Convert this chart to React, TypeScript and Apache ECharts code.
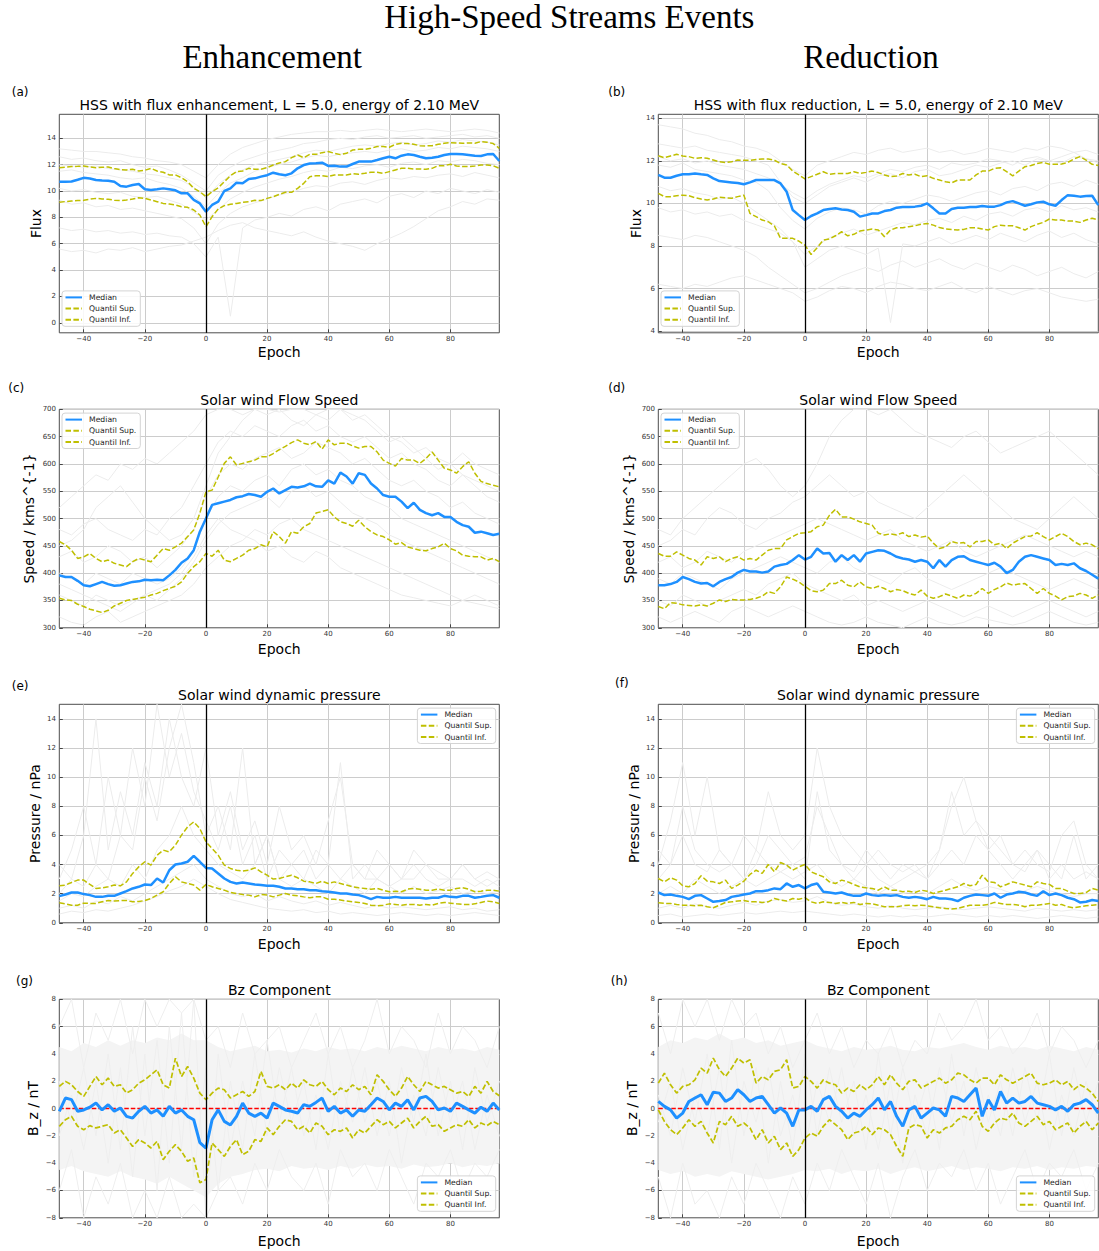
import React, { useEffect, useRef } from "react";
import * as echarts from "echarts";

// ---------- shared axes ----------
const EPOCH2 = [-48,-46,-44,-42,-40,-38,-36,-34,-32,-30,-28,-26,-24,-22,-20,-18,-16,-14,-12,-10,-8,-6,-4,-2,0,2,4,6,8,10,12,14,16,18,20,22,24,26,28,30,32,34,36,38,40,42,44,46,48,50,52,54,56,58,60,62,64,66,68,70,72,74,76,78,80,82,84,86,88,90,92,94,96];
const EPOCH4 = [-48,-44,-40,-36,-32,-28,-24,-20,-16,-12,-8,-4,0,4,8,12,16,20,24,28,32,36,40,44,48,52,56,60,64,68,72,76,80,84,88,92,96];
const X_TICKS = [-40,-20,0,20,40,60,80];
const FLUX_TICKS_A = [0,2,4,6,8,10,12,14];
const FLUX_TICKS_B = [4,6,8,10,12,14];
const SPEED_TICKS = [300,350,400,450,500,550,600,650,700];
const PRESSURE_TICKS = [0,2,4,6,8,10,12,14];
const BZ_TICKS = [-8,-6,-4,-2,0,2,4,6,8];
const LEGEND_NAMES = ["Median","Quantil Sup.","Quantil Inf."];

// ---------- (a) flux enhancement ----------
const A_MEDIAN = [10.71,10.7,10.72,10.85,11.0,10.95,10.84,10.8,10.78,10.7,10.38,10.33,10.46,10.53,10.13,10.08,10.13,10.2,10.13,10.05,9.82,9.82,9.32,9.06,8.43,8.94,9.19,10.0,10.2,10.63,10.58,10.91,10.96,11.09,11.2,11.39,11.27,11.2,11.34,11.72,11.97,12.08,12.1,12.15,11.9,11.92,11.85,11.85,12.05,12.23,12.23,12.23,12.35,12.48,12.6,12.48,12.68,12.78,12.73,12.6,12.48,12.53,12.6,12.73,12.81,12.81,12.78,12.73,12.68,12.66,12.78,12.81,12.28];
const A_SUP = [11.77,11.8,11.85,11.87,11.9,11.82,11.77,11.8,11.82,11.7,11.62,11.6,11.65,11.52,11.57,11.72,11.52,11.42,11.22,11.22,11.0,10.7,10.2,9.95,9.57,9.95,10.25,10.7,11.16,11.47,11.52,11.72,11.65,11.65,11.77,11.97,12.13,12.23,12.53,12.73,12.53,12.78,12.78,12.91,12.99,12.86,12.76,12.86,13.11,13.16,13.16,13.24,13.37,13.37,13.32,13.54,13.62,13.6,13.54,13.44,13.42,13.44,13.54,13.62,13.67,13.65,13.62,13.65,13.62,13.75,13.7,13.6,13.24];
const A_INF = [9.14,9.2,9.24,9.27,9.29,9.38,9.44,9.4,9.37,9.3,9.27,9.32,9.39,9.49,9.44,9.32,9.19,9.06,9.01,8.94,8.81,8.76,8.56,8.18,7.29,8.05,8.63,8.89,8.99,9.06,9.14,9.19,9.29,9.27,9.44,9.57,9.75,9.9,9.9,10.2,10.58,11.09,11.16,11.16,11.09,11.22,11.22,11.22,11.32,11.27,11.34,11.42,11.42,11.34,11.47,11.6,11.72,11.72,11.67,11.67,11.65,11.72,11.92,11.92,12.03,11.9,11.85,11.85,11.9,11.97,11.97,11.92,11.72];
const A_G1 = [13.2,13.1,13.0,13.0,12.9,12.8,12.6,12.5,12.3,12.2,12.0,11.5,11.0,12.0,12.8,13.3,13.6,13.9,14.1,14.3,14.4,14.5,14.5,14.6,14.5,14.6,14.7,14.6,14.5,14.6,14.7,14.6,14.5,14.6,14.7,14.6,14.4];
const A_G2 = [12.6,12.4,12.5,12.3,12.2,12.3,12.0,11.8,11.9,11.6,11.2,10.6,10.0,11.2,11.8,12.3,12.6,12.9,13.1,13.3,13.6,13.7,13.9,14.0,13.9,14.1,14.2,14.0,14.1,14.2,14.0,14.1,14.2,14.3,14.1,14.2,14.0];
const A_G3 = [11.5,11.6,11.4,11.3,11.2,11.0,10.9,11.0,10.7,10.5,10.2,9.6,8.8,9.8,10.6,11.0,11.5,11.8,12.0,12.2,12.5,12.7,12.6,12.8,12.9,13.0,12.9,13.1,13.2,13.0,13.1,13.3,13.2,13.4,13.3,13.2,13.0];
const A_G4 = [10.2,10.0,10.1,9.9,9.8,9.9,9.6,9.5,9.6,9.3,9.0,8.4,7.8,8.6,9.4,9.9,10.3,10.6,10.9,11.1,11.4,11.6,11.5,11.8,11.7,11.9,12.0,11.8,12.1,12.2,12.0,12.3,12.2,12.4,12.3,12.1,12.0];
const A_G5 = [9.3,9.0,9.1,8.8,8.9,8.6,8.7,8.5,8.3,8.1,7.9,7.2,6.0,7.5,8.3,8.8,9.1,9.4,9.7,9.9,10.2,10.4,10.3,10.6,10.7,10.5,10.8,11.0,10.9,11.1,11.0,11.2,11.3,11.1,11.4,11.2,11.0];
const A_G6 = [7.2,7.0,7.1,6.9,7.0,6.8,6.9,6.7,6.8,6.6,6.5,6.0,5.0,6.5,0.5,7.2,7.8,8.0,8.3,8.1,8.6,8.8,8.5,9.0,9.2,9.4,9.1,9.6,9.8,9.5,10.0,9.8,10.2,10.0,9.8,10.1,9.9];
const A_G7 = [5.6,5.4,5.5,5.3,5.6,5.5,5.7,5.4,5.6,5.8,5.9,6.2,6.5,7.0,7.4,7.6,7.2,7.0,6.8,6.6,6.9,6.5,6.2,6.0,5.8,5.5,6.0,6.4,6.8,7.3,7.9,8.5,8.8,9.2,9.0,9.4,9.3];
const A_G8 = [12.0,11.9,11.8,11.9,11.7,11.6,11.5,11.3,11.2,11.0,10.8,10.3,9.5,10.5,11.2,11.6,12.0,12.2,12.4,12.6,12.9,13.1,13.0,13.2,13.4,13.5,13.4,13.6,13.7,13.5,13.6,13.8,13.7,13.9,13.8,13.7,13.5];

// ---------- (b) flux reduction ----------
const B_MEDIAN = [11.34,11.21,11.21,11.3,11.37,11.37,11.41,11.37,11.34,11.18,11.05,11.02,10.99,10.96,10.9,10.99,11.1,11.1,11.1,11.1,10.94,10.55,9.69,9.45,9.22,9.41,9.53,9.69,9.74,9.77,9.72,9.69,9.61,9.38,9.45,9.53,9.53,9.64,9.69,9.8,9.83,9.83,9.85,9.89,10.0,9.77,9.53,9.53,9.74,9.8,9.8,9.83,9.83,9.88,9.85,9.85,9.92,10.05,10.11,10.0,9.89,9.96,10.05,10.08,9.96,9.89,10.16,10.39,10.36,10.32,10.35,10.36,9.92];
const B_SUP = [12.24,12.15,12.23,12.31,12.23,12.2,12.12,12.15,12.12,12.04,11.96,11.92,11.96,12.04,12.03,12.03,12.06,12.09,12.09,12.03,11.88,11.81,11.52,11.34,11.15,11.26,11.37,11.49,11.37,11.41,11.41,11.41,11.49,11.41,11.46,11.52,11.45,11.34,11.26,11.29,11.41,11.34,11.37,11.26,11.3,11.18,11.1,11.02,10.97,11.1,11.1,11.1,11.34,11.52,11.52,11.65,11.68,11.49,11.3,11.52,11.73,11.78,11.88,11.93,11.84,11.84,11.85,11.93,12.09,12.2,12.04,11.84,11.78];
const B_INF = [10.47,10.32,10.32,10.36,10.39,10.36,10.27,10.21,10.16,10.21,10.29,10.27,10.24,10.32,10.39,9.53,9.38,9.22,9.14,8.94,8.36,8.36,8.36,8.23,8.04,7.6,7.92,8.28,8.33,8.48,8.67,8.48,8.55,8.7,8.75,8.8,8.75,8.44,8.75,8.86,8.86,8.91,8.95,9.02,9.06,8.98,8.87,8.8,8.78,8.75,8.78,8.86,8.86,8.8,8.75,8.91,8.98,8.95,8.95,8.86,8.75,8.91,9.02,9.11,9.27,9.22,9.22,9.17,9.17,9.11,9.22,9.3,9.22];
const B_G1 = [13.7,13.6,13.5,13.3,13.2,13.0,12.9,12.7,12.6,12.4,12.0,11.6,11.3,11.8,12.0,12.2,12.4,12.3,12.5,12.6,12.4,12.5,12.6,12.4,12.5,12.3,12.4,12.6,12.5,12.4,12.6,12.5,12.7,12.6,12.4,12.5,12.3];
const B_G2 = [12.8,12.7,12.6,12.7,12.5,12.4,12.3,12.2,12.0,11.8,11.0,10.3,10.0,10.4,10.8,11.0,11.2,11.0,11.3,11.4,11.2,11.5,11.6,11.3,11.4,11.6,11.8,11.7,11.9,12.0,11.8,12.1,12.0,11.9,12.2,12.1,12.0];
const B_G3 = [11.8,11.7,11.9,11.6,11.5,11.4,11.3,11.1,11.0,10.6,9.8,9.2,8.8,9.3,9.6,9.8,9.7,9.5,9.9,10.1,10.0,10.2,10.4,10.3,10.1,10.3,10.5,10.6,10.4,10.7,10.8,10.6,10.9,11.0,10.8,11.1,10.9];
const B_G4 = [10.8,10.6,10.7,10.5,10.4,10.2,10.3,10.0,9.6,9.2,8.8,8.2,7.6,8.0,8.4,8.6,8.8,8.5,8.7,8.9,9.1,9.0,9.2,9.3,9.1,9.4,9.2,9.5,9.6,9.4,9.7,9.8,9.6,9.9,9.7,9.8,9.6];
const B_G5 = [9.8,9.6,9.7,9.5,9.6,9.4,9.5,9.2,9.0,8.8,8.6,8.2,7.0,7.4,7.8,8.0,7.8,7.6,7.9,4.4,8.1,8.0,8.2,8.4,8.1,8.3,8.5,8.3,8.6,8.4,8.2,8.5,8.7,8.4,8.6,8.3,8.1];
const B_G6 = [8.5,8.4,8.3,8.5,8.4,8.2,8.0,7.8,7.5,7.0,6.6,6.2,5.8,6.0,6.3,6.6,6.8,7.0,6.8,7.1,7.3,7.0,7.2,7.4,7.1,6.9,7.2,7.0,6.8,7.1,6.9,6.6,6.8,7.0,6.7,6.5,6.8];
const B_G7 = [6.2,6.1,6.0,6.2,6.1,6.3,6.5,6.6,6.4,6.2,6.0,5.8,5.4,5.6,5.9,6.1,6.0,5.8,6.1,6.3,6.2,6.0,5.9,6.1,6.3,6.0,5.8,6.1,5.9,5.7,5.9,6.0,5.8,5.6,5.5,5.4,5.5];
const B_G8 = [12.2,12.0,12.1,11.9,12.0,11.8,11.7,11.6,11.4,11.2,10.9,10.5,10.2,10.6,10.9,11.1,11.3,11.2,11.4,11.6,11.5,11.7,11.8,11.6,11.9,11.8,11.9,12.1,12.0,11.8,12.1,12.2,12.0,12.2,12.4,12.1,11.9];

// ---------- (c) speed enhancement ----------
const C_MEDIAN = [396,393,393,386,378,376,380,384,380,377,378,381,384,385,388,387,388,387,396,406,419,427,442,476,500,525,528,531,534,539,541,545,543,540,549,555,546,552,558,557,559,564,559,558,570,564,584,577,564,583,580,564,555,543,540,540,531,519,529,516,510,506,510,503,503,494,488,485,474,476,473,470,472];
const C_SUP = [458,452,442,427,430,436,427,421,424,418,415,412,421,427,424,421,433,445,442,448,455,467,479,510,549,552,576,601,613,598,601,604,607,613,613,619,626,632,639,644,638,635,641,627,644,635,638,638,633,629,632,632,622,607,601,596,610,607,607,601,610,622,607,592,589,583,595,604,583,568,564,561,558];
const C_INF = [354,351,350,343,339,334,331,328,332,340,345,350,352,354,356,360,363,368,372,376,384,400,412,421,436,431,442,424,421,427,433,442,445,452,448,476,467,455,476,473,485,491,510,513,516,503,494,491,486,497,485,476,470,467,461,453,456,448,445,442,441,445,448,455,445,441,433,431,430,430,424,427,421];
const C_G1 = [520,540,560,580,570,600,590,610,600,620,640,660,690,700,700,690,700,700,695,700,700,690,700,700,680,690,670,650,640,620,630,610,600,620,600,590,580];
const C_G2 = [480,470,490,500,480,470,460,480,470,500,520,560,600,640,660,650,670,660,650,670,680,660,670,650,640,650,630,610,620,600,590,570,560,580,560,540,530];
const C_G3 = [430,440,420,430,450,440,420,430,410,430,450,480,540,580,600,590,610,620,630,610,620,640,630,620,600,610,590,570,560,570,550,540,520,530,510,500,490];
const C_G4 = [400,390,380,400,390,380,400,390,380,390,410,440,500,540,560,550,570,580,560,590,600,580,590,570,560,540,530,520,500,490,480,470,460,450,440,430,420];
const C_G5 = [360,350,340,360,350,340,350,360,350,370,390,420,460,490,510,520,530,540,520,550,560,540,550,530,510,500,490,470,460,450,440,430,420,410,400,390,380];
const C_G6 = [320,310,305,320,330,310,320,330,340,350,360,380,410,430,450,460,480,470,490,500,480,470,460,450,440,430,420,410,400,390,380,370,360,350,360,350,340];
const C_G7 = [450,460,480,520,540,560,530,500,480,460,470,500,560,620,650,680,700,690,700,680,670,690,680,700,690,680,660,640,650,630,610,590,600,580,570,560,550];
const C_G8 = [380,370,360,350,340,330,345,360,370,380,400,430,470,500,480,470,460,440,450,430,420,440,430,410,400,390,380,370,360,355,350,345,340,350,345,340,335];

// ---------- (d) speed reduction ----------
const D_MEDIAN = [378,378,380,384,393,389,384,381,382,376,384,389,393,401,406,403,403,401,403,412,415,417,424,433,425,430,445,436,437,421,433,424,433,421,436,439,442,441,436,430,427,425,421,424,421,409,424,412,424,430,431,424,421,418,415,419,412,400,406,421,430,433,430,427,424,415,417,415,418,409,404,397,390];
const D_SUP = [436,431,431,439,433,427,424,415,430,427,430,421,427,430,424,427,424,433,442,445,445,461,467,473,474,476,485,488,506,517,503,503,499,494,491,488,473,470,472,470,474,467,470,466,468,455,445,448,458,455,456,448,458,458,461,452,455,445,455,461,467,468,474,467,461,467,473,467,458,452,455,452,445];
const D_INF = [339,335,346,345,342,341,340,342,340,345,351,348,352,351,351,352,354,358,366,363,375,393,389,384,376,368,366,369,381,381,387,378,375,384,375,372,376,372,366,370,368,363,360,369,358,354,357,362,358,354,360,358,363,372,363,370,375,382,378,380,381,372,363,372,363,358,351,357,358,363,360,354,360];
const D_G1 = [480,470,500,520,540,560,580,600,610,590,560,540,560,600,650,680,700,700,690,700,680,660,650,640,630,650,660,640,620,630,640,650,660,640,620,600,580];
const D_G2 = [450,460,480,470,500,520,510,490,480,500,510,530,540,560,580,560,540,550,530,520,510,500,520,540,560,580,560,540,520,500,490,480,500,520,540,520,500];
const D_G3 = [420,430,410,420,440,430,420,440,450,460,470,480,490,500,490,480,470,460,470,480,460,450,440,450,460,440,430,440,450,460,470,460,450,440,430,440,430];
const D_G4 = [390,380,400,390,380,370,390,400,410,420,430,420,410,400,420,430,410,400,390,380,400,410,390,380,370,380,390,400,410,400,390,380,370,380,390,380,370];
const D_G5 = [350,340,360,350,340,350,360,370,360,380,390,400,380,370,360,350,360,340,350,340,330,340,350,340,330,320,330,340,330,320,330,340,350,340,330,320,330];
const D_G6 = [320,310,320,330,320,310,330,340,330,320,330,340,330,320,310,305,310,320,310,305,300,310,320,310,305,310,320,315,310,305,310,320,330,320,310,305,310];

// ---------- (e) pressure enhancement ----------
const E_MEDIAN = [1.83,1.94,2.08,2.08,1.97,1.9,1.78,1.78,1.85,1.85,2.01,2.17,2.36,2.47,2.63,2.59,3.04,2.77,3.61,4.0,4.07,4.19,4.6,4.19,3.77,3.73,3.39,3.04,2.81,2.7,2.77,2.7,2.63,2.59,2.54,2.54,2.47,2.36,2.36,2.31,2.31,2.24,2.24,2.17,2.13,2.08,2.01,2.01,1.94,1.9,1.78,1.62,1.78,1.72,1.72,1.78,1.72,1.72,1.72,1.72,1.67,1.72,1.72,1.85,1.78,1.76,1.85,1.85,1.72,1.78,1.85,1.9,1.72];
const E_SUP = [2.54,2.59,2.77,2.93,2.93,2.63,2.36,2.4,2.47,2.59,2.54,2.81,3.39,3.84,4.19,3.96,4.64,4.99,4.87,5.33,6.02,6.59,6.93,6.47,5.56,5.1,4.64,3.96,3.73,3.61,3.55,3.61,3.77,3.5,3.27,3.0,3.04,3.16,3.27,3.09,2.86,2.81,2.7,2.86,2.7,2.81,2.7,2.59,2.47,2.4,2.36,2.31,2.36,2.24,2.13,2.17,2.13,2.31,2.36,2.31,2.24,2.24,2.31,2.24,2.24,2.36,2.4,2.31,2.13,2.17,2.24,2.24,2.17];
const E_INF = [1.37,1.3,1.21,1.21,1.35,1.33,1.33,1.44,1.53,1.49,1.53,1.53,1.44,1.46,1.53,1.67,1.9,2.13,2.7,3.16,2.81,2.7,2.59,2.24,2.63,2.47,2.36,2.24,2.08,2.01,1.94,1.9,1.78,1.94,1.9,1.78,1.9,2.01,1.9,1.85,1.78,1.72,1.78,1.78,1.62,1.62,1.56,1.49,1.44,1.4,1.33,1.21,1.17,1.21,1.3,1.26,1.21,1.26,1.26,1.21,1.26,1.21,1.33,1.4,1.35,1.3,1.26,1.26,1.3,1.4,1.49,1.44,1.33];
const E_G1 = [3,5,8,4,10,6,12,8,15,10,13,9,7,5,8,4,6,3,5,4,3,5,4,3,4,3,3,4,3,3,4,3,3,3,2.5,3,2.5];
const E_G2 = [2,3,2.5,4,3,6,5,10,7,12,15,11,6,8,5,12,4,6,3,4,5,3,4,11,3,4,3,2.5,3,4,3,2.5,3,4,3,2.5,3];
const E_G3 = [1.5,2,1.8,2.5,3,2.5,4,3,5,6,8,6,5,4,3.5,3,4,6,3,2.5,3,2.5,2,3,2.5,2,3,2.5,2,2.5,2,2.2,2.5,2,2.2,2,2.2];
const E_G4 = [1,1.2,1,1.5,1.3,1.8,1.5,2,2.5,3,3.5,4,3,2.5,2,1.8,2,1.5,1.8,1.5,1.3,1.5,1.2,1.4,1.2,1,1.2,1,1.1,1,0.9,1,1.1,0.9,1,0.8,0.9];
const E_G5 = [0.6,0.8,0.7,0.9,0.8,1,1.2,1.5,1.8,2.2,2.5,3,2.5,2,1.6,1.4,1.2,1,0.9,0.8,0.9,0.7,0.8,0.6,0.7,0.6,0.5,0.6,0.7,0.6,0.5,0.6,0.5,0.6,0.7,0.6,0.5];
const E_G6 = [4,3,6,14,5,9,6,11,8,14,10,8,12,6,9,5,7,4,8,5,6,4,7,10,4,3,5,4,3,5,4,3.5,3,4,3,3.5,3];

// ---------- (f) pressure reduction ----------
const F_MEDIAN = [2.08,1.9,1.94,1.85,1.78,1.62,1.85,1.9,1.67,1.44,1.49,1.56,1.78,1.85,1.94,2.01,2.17,2.17,2.24,2.36,2.31,2.7,2.47,2.59,2.36,2.59,2.7,2.13,2.08,2.01,2.08,1.94,1.85,1.85,2.01,1.9,1.85,1.9,1.85,1.9,1.78,1.72,1.78,1.72,1.62,1.78,1.67,1.67,1.62,1.49,1.72,1.85,1.94,1.9,1.85,2.01,1.72,1.94,2.01,2.13,2.08,1.94,1.85,2.17,1.9,2.01,1.9,1.72,1.62,1.4,1.44,1.56,1.49];
const F_SUP = [3.04,2.81,3.09,2.93,2.54,2.47,2.7,3.23,2.86,2.81,2.7,2.93,2.36,2.59,2.86,3.32,3.61,3.39,4.0,3.5,4.14,3.96,3.61,3.84,4.0,3.5,3.32,3.16,2.81,2.7,2.93,2.81,2.63,2.47,2.4,2.36,2.24,2.47,2.24,2.24,2.13,2.17,2.08,2.24,2.17,2.01,2.13,2.24,2.36,2.47,2.7,2.54,2.63,3.27,2.81,2.77,2.47,2.63,2.81,2.7,2.59,2.47,2.81,2.7,2.63,2.36,2.36,2.17,2.01,2.01,2.08,2.36,2.24];
const F_INF = [1.37,1.33,1.33,1.26,1.21,1.21,1.17,1.21,1.1,1.03,1.21,1.4,1.44,1.49,1.53,1.44,1.44,1.4,1.44,1.67,1.56,1.49,1.67,1.62,1.72,1.44,1.33,1.44,1.4,1.33,1.4,1.33,1.4,1.26,1.33,1.3,1.21,1.1,1.1,1.1,1.17,1.21,1.17,1.21,1.17,1.1,1.03,0.98,0.94,0.98,1.1,1.21,1.21,1.21,1.26,1.4,1.33,1.26,1.26,1.21,1.1,1.21,1.21,1.26,1.33,1.21,1.26,1.1,1.03,1.1,1.17,1.21,1.26];
const F_G1 = [4,7,11,6,10,5,4,6,5,9,6,5,6,12,8,6,5,4,5,4,3.5,4,3,5,8,10,7,6,5,4,3.5,5,4,3,6,3,4];
const F_G2 = [3,4,8,5,4,3.5,4,3,5,4,3.5,4,3,9,5,4,3,4,3,2.5,3,3.5,3,4,5,4,6,5,4,3,4,5,3,4,3,3.5,3];
const F_G3 = [2,2.5,2,3,2.5,2,2.5,3,2.5,3,3.5,3,3.5,4,3,2.5,3,2.5,2,2.5,2,2.2,2,2.5,3,2.5,2.2,2.5,2.3,2,2.2,2.5,2.2,2,1.8,2,2];
const F_G4 = [1,1.2,1,1.3,1.1,1,1.2,1.4,1.2,1.5,1.6,1.4,1.5,1.8,1.4,1.2,1.3,1.1,1,1.2,1,0.9,1,1.1,1,0.9,1,1.1,1,0.9,0.8,1,0.9,0.8,0.9,0.8,0.9];
const F_G5 = [0.5,0.6,0.4,0.5,0.6,0.5,0.6,0.7,0.6,0.7,0.8,0.7,0.8,0.7,0.6,0.5,0.6,0.5,0.4,0.5,0.4,0.5,0.4,0.5,0.6,0.5,0.4,0.5,0.4,0.5,0.4,0.3,0.4,0.5,0.4,0.3,0.4];
const F_G6 = [5,4,6,4,3.5,5,4,3,4,6,5,4,4.5,8,6,4,3.5,5,4,3,4,3.5,4,5,9,6,7,5,6,4,5,4,3.5,6,7,4,3];

// ---------- (g) Bz enhancement ----------
const G_MEDIAN = [-0.2,0.77,0.65,-0.2,-0.1,0.1,0.4,-0.1,0.28,-0.2,0.04,-0.57,-0.7,-0.2,0.16,-0.33,-0.1,-0.57,0.16,-0.33,-0.1,-0.57,-0.82,-2.5,-2.9,-0.82,-0.1,-0.94,-1.2,-0.57,0.4,-0.33,-0.57,-0.33,-0.7,0.4,0.16,-0.1,-0.2,-0.33,0.28,0.16,0.45,0.77,-0.2,0.16,-0.33,-0.1,-0.57,-0.1,-0.2,0.28,0.77,0.52,-0.1,0.4,0.16,0.65,-0.1,0.77,0.89,0.52,-0.1,0.04,-0.2,0.4,0.16,-0.1,-0.33,0.1,-0.2,0.4,-0.1];
const G_SUP = [1.62,1.99,1.74,1.25,0.89,1.62,2.35,1.74,2.23,1.62,1.74,1.13,1.38,1.86,2.1,2.47,2.84,1.74,1.5,3.69,2.35,3.08,2.23,1.13,0.65,1.13,1.5,1.38,0.77,1.01,1.25,0.89,1.25,2.72,1.62,1.5,1.74,1.38,1.86,1.5,2.1,1.74,1.62,1.99,1.38,1.01,1.5,1.25,1.74,1.38,1.62,1.01,2.47,1.99,1.38,0.89,1.5,2.35,1.74,1.25,1.99,1.74,1.5,1.62,1.38,1.13,1.25,0.89,1.62,1.13,1.99,1.25,0.94];
const G_INF = [-1.3,-0.82,-0.57,-1.3,-1.55,-1.25,-1.42,-1.3,-1.18,-1.79,-1.55,-2.16,-2.77,-2.28,-2.52,-2.89,-2.4,-3.74,-3.13,-2.64,-3.13,-3.86,-3.62,-5.44,-5.2,-2.52,-3.01,-3.5,-2.77,-2.28,-3.37,-3.13,-2.28,-2.4,-1.42,-1.91,-1.3,-0.82,-0.94,-1.55,-1.3,-1.79,-1.06,-1.3,-1.91,-1.55,-1.67,-1.42,-2.16,-1.55,-1.79,-1.3,-0.82,-1.18,-0.94,-1.42,-1.06,-0.7,-1.42,-0.94,-0.57,-1.3,-1.18,-1.67,-1.42,-1.18,-1.3,-0.82,-1.42,-1.06,-1.25,-0.94,-1.18];
const G_BAND_UP = [4.5,4.2,4.8,4.5,5,4.6,5,4.8,5.2,5,5.5,5,5,4.5,4.2,4.4,4.6,4.2,4.3,4.1,4.4,4.2,4.5,4.3,4.4,4.2,4.5,4.3,4.6,4.4,4.2,4.5,4.3,4.4,4.2,4.5,4.3];
const G_BAND_LO = [-4.5,-4.2,-4.6,-4.8,-5,-4.6,-5,-5.2,-5.5,-5,-5.5,-6,-6.5,-5.5,-5,-4.8,-4.5,-4.4,-4.6,-4.2,-4.4,-4.3,-4.5,-4.2,-4.4,-4.1,-4.3,-4.2,-4.4,-4.1,-4.3,-4.2,-4,-4.3,-4.1,-4.2,-4];
const G_G1 = [6,8,3,7,5,8,4,8,6,8,7,8,5,6,3,7,4,5,6,3,5,7,4,6,3,5,8,4,6,5,3,7,4,6,5,3,6];
const G_G2 = [-6,-3,-8,-5,-7,-4,-8,-6,-8,-5,-8,-7,-8,-6,-5,-7,-4,-6,-3,-5,-6,-4,-7,-3,-5,-4,-6,-3,-5,-7,-4,-5,-3,-6,-4,-5,-3];
const G_G3 = [2,-1,3,-2,4,-3,6,-2,5,-4,7,-5,3,-6,2,-3,4,-2,3,-1,2,-3,4,-2,3,-1,2,-2,3,-1,4,-2,2,-3,3,-1,2];
const G_G4 = [-2,1,-3,2,-4,3,-5,4,-6,6,-3,8,-8,4,-3,2,-2,5,-1,3,-2,1,-3,2,-1,3,-2,2,-4,1,-2,3,-1,2,-3,1,-2];

// ---------- (h) Bz reduction ----------
const H_MEDIAN = [0.52,0.16,-0.1,-0.7,-0.33,0.52,0.77,1.01,0.28,1.2,1.13,0.52,0.77,1.38,1.01,0.52,0.77,0.89,0.28,-0.33,0.04,-0.33,-1.3,-0.1,-0.1,0.16,-0.2,0.65,0.89,0.16,-0.2,-0.7,-0.33,-0.57,-0.1,0.28,0.77,-0.1,0.52,-0.57,-1.3,-0.1,0.16,-0.7,-0.33,0.04,-0.1,-0.57,0.89,0.77,0.52,1.01,1.5,-0.57,0.65,-0.1,1.25,0.4,0.77,0.4,0.52,0.89,0.4,0.28,0.16,-0.1,0.16,-0.2,0.28,0.4,0.65,0.28,-0.33];
const H_SUP = [1.86,2.59,1.74,1.13,1.62,1.74,2.1,2.96,2.59,3.69,2.84,2.35,2.96,3.69,3.33,3.57,1.86,2.35,2.1,2.72,2.84,3.57,1.5,1.62,2.35,1.99,1.5,2.1,1.86,1.74,1.13,1.5,1.25,1.74,1.38,1.74,2.35,1.74,2.47,1.86,1.38,1.99,2.1,1.5,1.74,1.99,2.23,1.86,2.1,2.59,2.47,2.1,1.86,2.23,2.23,1.74,2.47,2.1,1.86,2.1,2.35,2.59,1.86,1.74,1.86,2.1,1.74,1.99,1.38,1.74,1.5,1.13,0.52];
const H_INF = [-0.1,-0.94,-1.55,-1.91,-1.42,-0.82,-1.3,-0.94,-1.79,-2.52,-0.94,-1.18,-0.57,-1.3,-1.06,-1.42,-2.28,-1.55,-2.52,-2.03,-3.01,-2.52,-3.5,-3.01,-2.16,-1.79,-2.03,-1.3,-0.82,-1.18,-1.55,-2.28,-1.79,-1.67,-1.3,-1.91,-1.42,-1.55,-1.91,-2.77,-3.5,-1.42,-1.18,-1.3,-2.16,-1.55,-1.79,-1.42,-1.3,-0.82,-0.57,-0.82,-0.2,-1.3,-1.67,-1.06,-0.7,-0.82,-0.33,-1.06,-1.3,-0.94,-0.57,-1.18,-0.94,-1.55,-1.3,-1.06,-1.79,-1.3,-0.94,-1.55,-1.06];
const H_BAND_UP = [4.5,5,4.8,5.2,5,5.5,5,5.2,4.8,5,4.6,4.8,5,4.6,4.4,4.2,4.5,4.3,4.4,4.6,4.3,4.2,4.5,4.4,4.6,4.8,4.5,4.3,4.6,4.4,4.5,4.3,4.6,4.4,4.2,4.5,4.3];
const H_BAND_LO = [-4.5,-4.8,-4.6,-5,-4.8,-5,-4.6,-4.8,-5,-5.2,-5,-4.8,-4.5,-4.6,-4.4,-4.8,-4.5,-4.6,-4.4,-4.8,-4.5,-4.3,-4.6,-4.4,-4.2,-4.5,-4.3,-4.4,-4.6,-4.3,-4.4,-4.2,-4.5,-4.3,-4.4,-4.2,-4.3];
const H_G1 = [7,4,8,6,8,5,8,6,7,4,6,3,5,7,4,6,3,5,4,6,3,5,4,7,5,6,8,5,6,4,5,7,4,6,5,3,5];
const H_G2 = [-5,-8,-4,-7,-6,-8,-5,-7,-4,-6,-8,-5,-7,-4,-6,-3,-5,-7,-4,-8,-5,-3,-6,-4,-5,-3,-6,-4,-7,-5,-3,-6,-4,-5,-3,-6,-4];
const H_G3 = [1,-2,3,-1,4,-3,5,-2,3,-4,2,-3,4,-2,3,-1,2,-3,4,-2,3,-1,2,-3,4,-2,3,-1,2,-2,3,-1,4,-2,3,-1,2];
const H_G4 = [-1,2,-3,1,-2,3,-4,2,-1,3,-2,1,-3,2,-1,3,-2,1,-3,2,-4,1,-2,3,-1,2,-3,1,-2,3,-1,2,-3,1,-2,2,-1];

// ---------- panel definitions ----------
type Panel = {
  label: string; title: string; ylabel: string;
  col: number; row: number;
  ymin: number; ymax: number; yticks: number[];
  median: number[]; sup: number[]; inf: number[];
  grey: number[][]; bandUp: number[] | null; bandLo: number[] | null;
  legendPos: "bl" | "tl" | "tr" | "br"; zero: boolean;
  labelX: number; labelY: number; ylabelX: number;
};

const PANELS: Panel[] = [
  { label: "(a)", title: "HSS with flux enhancement, L = 5.0, energy of 2.10 MeV", ylabel: "Flux", col: 0, row: 0, ymin: -0.76, ymax: 15.82, yticks: FLUX_TICKS_A, median: A_MEDIAN, sup: A_SUP, inf: A_INF, grey: [A_G1, A_G2, A_G3, A_G4, A_G5, A_G6, A_G7, A_G8], bandUp: null, bandLo: null, legendPos: "bl", zero: false, labelX: 11.7, labelY: 91.7, ylabelX: 36 },
  { label: "(b)", title: "HSS with flux reduction, L = 5.0, energy of 2.10 MeV", ylabel: "Flux", col: 1, row: 0, ymin: 3.92, ymax: 14.19, yticks: FLUX_TICKS_B, median: B_MEDIAN, sup: B_SUP, inf: B_INF, grey: [B_G1, B_G2, B_G3, B_G4, B_G5, B_G6, B_G7, B_G8], bandUp: null, bandLo: null, legendPos: "bl", zero: false, labelX: 608.3, labelY: 92, ylabelX: 635.5 },
  { label: "(c)", title: "Solar wind Flow Speed", ylabel: "Speed / kms^{-1}", col: 0, row: 1, ymin: 300, ymax: 700, yticks: SPEED_TICKS, median: C_MEDIAN, sup: C_SUP, inf: C_INF, grey: [C_G1, C_G2, C_G3, C_G4, C_G5, C_G6, C_G7, C_G8], bandUp: null, bandLo: null, legendPos: "tl", zero: false, labelX: 8.3, labelY: 387.5, ylabelX: 29.2 },
  { label: "(d)", title: "Solar wind Flow Speed", ylabel: "Speed / kms^{-1}", col: 1, row: 1, ymin: 300, ymax: 700, yticks: SPEED_TICKS, median: D_MEDIAN, sup: D_SUP, inf: D_INF, grey: [D_G1, D_G2, D_G3, D_G4, D_G5, D_G6], bandUp: null, bandLo: null, legendPos: "tl", zero: false, labelX: 608.3, labelY: 387.5, ylabelX: 628.5 },
  { label: "(e)", title: "Solar wind dynamic pressure", ylabel: "Pressure / nPa", col: 0, row: 2, ymin: 0, ymax: 15, yticks: PRESSURE_TICKS, median: E_MEDIAN, sup: E_SUP, inf: E_INF, grey: [E_G1, E_G2, E_G3, E_G4, E_G5, E_G6], bandUp: null, bandLo: null, legendPos: "tr", zero: false, labelX: 11.7, labelY: 686, ylabelX: 35 },
  { label: "(f)", title: "Solar wind dynamic pressure", ylabel: "Pressure / nPa", col: 1, row: 2, ymin: 0, ymax: 15, yticks: PRESSURE_TICKS, median: F_MEDIAN, sup: F_SUP, inf: F_INF, grey: [F_G1, F_G2, F_G3, F_G4, F_G5, F_G6], bandUp: null, bandLo: null, legendPos: "tr", zero: false, labelX: 615, labelY: 682.5, ylabelX: 634 },
  { label: "(g)", title: "Bz Component", ylabel: "B_z / nT", col: 0, row: 3, ymin: -8, ymax: 8, yticks: BZ_TICKS, median: G_MEDIAN, sup: G_SUP, inf: G_INF, grey: [G_G1, G_G2, G_G3, G_G4], bandUp: G_BAND_UP, bandLo: G_BAND_LO, legendPos: "br", zero: true, labelX: 16, labelY: 981, ylabelX: 32.5 },
  { label: "(h)", title: "Bz Component", ylabel: "B_z / nT", col: 1, row: 3, ymin: -8, ymax: 8, yticks: BZ_TICKS, median: H_MEDIAN, sup: H_SUP, inf: H_INF, grey: [H_G1, H_G2, H_G3, H_G4], bandUp: H_BAND_UP, bandLo: H_BAND_LO, legendPos: "br", zero: true, labelX: 610.7, labelY: 981, ylabelX: 632 },
];

// ---------- layout ----------
const CHART_W = 1099;
const CHART_H = 1251;
const GRID_LEFT = [59.3, 658.3];
const GRID_TOP = [114.3, 409.3, 704.3, 999.3];
const GRID_W = 440;
const GRID_H = 218.5;
const EPOCH_Y = [352, 648.5, 944, 1240.5];
const FONT = "DejaVu Sans";
const SERIF = "Liberation Serif";
const BLUE = "#1e90ff";
const OLIVE = "#bfbf00";
const GREY_LINE = "#ececec";
const DASH = [5.5, 2.4];

const zip = (xs: number[], ys: number[]) => ys.map((y, i) => [xs[i], y]);
const fmtTick = (v: number) => (v < 0 ? "\u2212" + String(Math.abs(v)) : String(v));

function txt(text: string, x: number, y: number, size: number, family: string, align: string, vAlign: string, rotation = 0) {
  return {
    type: "text",
    x, y, rotation,
    silent: true,
    style: {
      text, fill: "#000", fontSize: size, fontFamily: family,
      align, verticalAlign: vAlign, textAlign: align, textVerticalAlign: vAlign,
    },
  };
}

function buildOption() {
  const grid: any[] = [];
  const xAxis: any[] = [];
  const yAxis: any[] = [];
  const series: any[] = [];
  const legend: any[] = [];
  const graphic: any[] = [];

  graphic.push(txt("High-Speed Streams Events", 569.3, 17, 33, SERIF, "center", "middle"));
  graphic.push(txt("Enhancement", 272.2, 56.5, 33, SERIF, "center", "middle"));
  graphic.push(txt("Reduction", 871, 56.5, 33, SERIF, "center", "middle"));

  PANELS.forEach((p, i) => {
    const left = GRID_LEFT[p.col];
    const top = GRID_TOP[p.row];
    const isBz = p.zero;
    grid.push({ left, top, width: GRID_W, height: GRID_H, show: true, borderColor: "#4d4d4d", borderWidth: 1, backgroundColor: "rgba(0,0,0,0)" });

    const tickStyle = { show: true, inside: true, length: 3.5, lineStyle: { color: "#444", width: 1 } };
    const labelStyle = { show: true, formatter: fmtTick, fontSize: 7, fontFamily: FONT, color: "#333" };
    const splitStyle = { show: true, lineStyle: { color: "#cccccc", width: 1, type: "solid" } };

    xAxis.push({
      type: "value", gridIndex: i, min: -48, max: 96,
      axisLine: { show: false, onZero: false },
      axisTick: { ...tickStyle, customValues: X_TICKS },
      axisLabel: { ...labelStyle, customValues: X_TICKS, margin: 3 },
      splitLine: splitStyle,
    });
    yAxis.push({
      type: "value", gridIndex: i, min: p.ymin, max: p.ymax,
      axisLine: { show: false, onZero: false },
      axisTick: { ...tickStyle, customValues: p.yticks },
      axisLabel: { ...labelStyle, customValues: p.yticks, margin: 3.3 },
      splitLine: splitStyle,
    });

    const common = { xAxisIndex: i, yAxisIndex: i, type: "line", symbol: "none", showSymbol: false, silent: true, animation: false, clip: true };

    if (p.bandUp && p.bandLo) {
      [p.bandUp, p.bandLo].forEach((b) => {
        series.push({ ...common, name: "band", data: zip(EPOCH4, b), lineStyle: { width: 0, opacity: 0 }, areaStyle: { color: "#f4f4f4", opacity: 1, origin: "auto" }, z: 1 });
      });
    }
    p.grey.forEach((g, gi) => {
      const s: any = { ...common, name: "event", data: zip(EPOCH4, g), lineStyle: { color: isBz ? "#eeeeee" : GREY_LINE, width: 1 }, z: 2 };
      if (gi === 0 && p.zero) {
        s.markLine = { silent: true, symbol: ["none", "none"], label: { show: false }, z: 5, animation: false,
          lineStyle: { color: "#ff0000", width: 1.3, type: [4.5, 2] }, data: [{ yAxis: 0 }] };
      }
      series.push(s);
    });
    series.push({ ...common, name: "Median", data: zip(EPOCH2, p.median), lineStyle: { color: BLUE, width: isBz ? 3 : 2.5 }, itemStyle: { color: BLUE }, z: 7,
      markLine: { silent: true, symbol: ["none", "none"], label: { show: false }, z: 8, animation: false,
        lineStyle: { color: "#000000", width: 1.3, type: "solid" }, data: [{ xAxis: 0 }] } });
    series.push({ ...common, name: "Quantil Sup.", data: zip(EPOCH2, p.sup), lineStyle: { color: OLIVE, width: isBz ? 1.7 : 1.5, type: DASH }, itemStyle: { color: OLIVE }, z: 6 });
    series.push({ ...common, name: "Quantil Inf.", data: zip(EPOCH2, p.inf), lineStyle: { color: OLIVE, width: isBz ? 1.7 : 1.5, type: DASH }, itemStyle: { color: OLIVE }, z: 6 });

    // legend
    const boxH = 38.4;
    const lg: any = {
      data: LEGEND_NAMES.map((n) => ({ name: n })),
      orient: "vertical", selectedMode: false, z: 20,
      itemWidth: 16.5, itemHeight: 9, itemGap: 3.2,
      padding: [2.5, 4, 2.5, 2.5],
      backgroundColor: "rgba(255,255,255,0.85)", borderColor: "#d4d4d4", borderWidth: 1, borderRadius: 3,
      itemStyle: { color: "rgba(0,0,0,0)", borderColor: "rgba(0,0,0,0)", borderWidth: 0, opacity: 0 },
      textStyle: { fontSize: 7.7, fontFamily: FONT, color: "#222", padding: [0, 0, 0, 2] },
    };
    if (p.legendPos === "bl" || p.legendPos === "tl") lg.left = left + 2.7;
    else lg.right = CHART_W - (left + GRID_W - 3.6);
    if (p.legendPos === "bl" || p.legendPos === "br") lg.top = top + GRID_H - 3.5 - boxH;
    else lg.top = top + 3.8;
    legend.push(lg);

    // texts
    graphic.push(txt(p.label, p.labelX, p.labelY, 12, FONT, "left", "middle"));
    graphic.push(txt(p.title, left + GRID_W / 2, top - 9.5, 14, FONT, "center", "middle"));
    graphic.push(txt("Epoch", left + GRID_W / 2, EPOCH_Y[p.row], 14, FONT, "center", "middle"));
    graphic.push(txt(p.ylabel, p.ylabelX, top + GRID_H / 2, 14, FONT, "center", "middle", Math.PI / 2));
  });

  return {
    animation: false,
    backgroundColor: "#ffffff",
    grid, xAxis, yAxis, series, legend, graphic,
  };
}

export default function App() {
  const ref = useRef<HTMLDivElement>(null);
  useEffect(() => {
    document.body.style.margin = "0";
    const chart = echarts.init(ref.current as HTMLDivElement, null, { renderer: "svg", width: CHART_W, height: CHART_H });
    chart.setOption(buildOption() as any);
    return () => chart.dispose();
  }, []);
  return <div ref={ref} style={{ width: CHART_W, height: CHART_H }} />;
}
